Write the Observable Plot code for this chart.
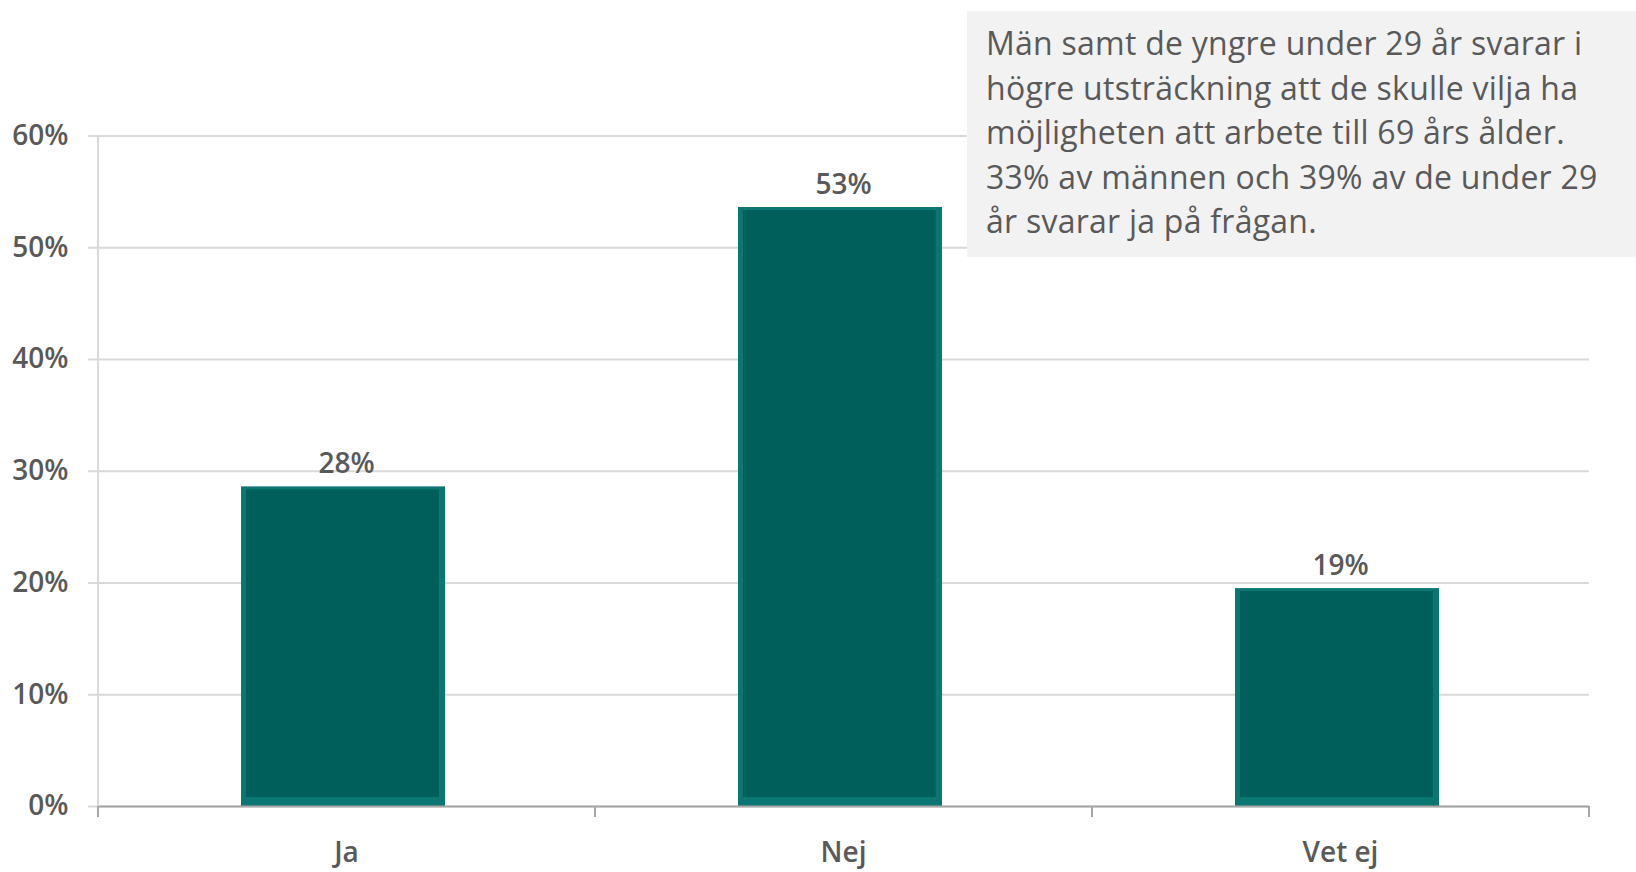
<!DOCTYPE html>
<html>
<head>
<meta charset="utf-8">
<script src="https://cdn.jsdelivr.net/npm/d3@7"></script>
<script src="https://cdn.jsdelivr.net/npm/@observablehq/plot@0.6"></script>
<style>
  html, body { margin: 0; padding: 0; background: #fff; }
  #wrap { position: relative; width: 1636px; height: 872px; overflow: hidden; }
  #note {
    position: absolute; left: 967px; top: 11px; width: 669px; height: 246px;
    background: #f2f2f2; box-sizing: border-box; padding: 10px 0 0 19px;
  }
  #note div {
    font-family: "Open Sans", sans-serif; font-size: 32px; line-height: 44.5px;
    letter-spacing: 0.25px; color: #595959; white-space: nowrap;
  }
</style>
</head>
<body>
<div id="wrap"></div>
<script>
const categories = ["Ja", "Nej", "Vet ej"];
const values = [28.6, 53.6, 19.5];
const valueLabels = ["28%", "53%", "19%"];
const yTicks = [0, 10, 20, 30, 40, 50, 60];
const noteLines = [
  "Män samt de yngre under 29 år svarar i",
  "högre utsträckning att de skulle vilja ha",
  "möjligheten att arbete till 69 års ålder.",
  "33% av männen och 39% av de under 29",
  "år svarar ja på frågan."
];

const data = categories.map((c, i) => ({cat: c, value: values[i], label: valueLabels[i]}));

const font = {fontFamily: "'Open Sans', sans-serif", fontWeight: 600};

const plot = Plot.plot({
  width: 1636,
  height: 872,
  marginLeft: 98,
  marginRight: 47,
  marginTop: 135.5,
  marginBottom: 66,
  style: {fontFamily: "'Open Sans', sans-serif", background: "transparent"},
  x: {domain: categories, paddingInner: 0.589, paddingOuter: 0.2945, label: null},
  y: {domain: [0, 60], label: null},
  marks: [
    Plot.gridY(yTicks, {stroke: "#d9d9d9", strokeWidth: 2, strokeOpacity: 1}),
    Plot.axisY(yTicks, {
      tickSize: 10, tickPadding: 20, tickFormat: d => d + "%",
      stroke: "#d9d9d9", strokeWidth: 2, fill: "#595959", fontSize: 28, ...font
    }),
    Plot.axisX({
      tickSize: 0, tickPadding: 36, fill: "#595959", fontSize: 28, ...font
    }),
    Plot.barY(data, {x: "cat", y: "value", fill: "#0a7772", dx: -3}),
    Plot.barY(data, {x: "cat", y: "value", fill: "#005f5b", dx: -3,
      insetLeft: 5, insetRight: 6, insetTop: 3, insetBottom: 9}),
    Plot.ruleY([0], {stroke: "#a6a6a6", strokeWidth: 2}),
    Plot.text(data, {
      x: "cat", y: "value", text: "label", lineAnchor: "bottom", dy: -14,
      fill: "#595959", fontSize: 28, ...font
    })
  ]
});

document.getElementById("wrap").appendChild(plot);

// Excel-style axis line and category-boundary ticks, derived from the plot's scales
const sx = plot.scale("x");
const sy = plot.scale("y");
const [r0, r1] = sx.range;
const n = sx.domain.length;
const yBase = sy.apply(0);
const yTop = sy.apply(60);
const svg = d3.select(plot);
svg.append("line")
  .attr("x1", r0).attr("x2", r0).attr("y1", yTop).attr("y2", yBase)
  .attr("stroke", "#d9d9d9").attr("stroke-width", 2);
svg.append("g").selectAll("line")
  .data(d3.range(n + 1).map(i => r0 + i * (r1 - r0) / n))
  .join("line")
  .attr("x1", d => d).attr("x2", d => d)
  .attr("y1", yBase).attr("y2", yBase + 11)
  .attr("stroke", "#a6a6a6").attr("stroke-width", 2);

// Annotation box
const note = d3.select("#wrap").append("div").attr("id", "note");
note.selectAll("div").data(noteLines).join("div").text(d => d);
</script>
</body>
</html>
